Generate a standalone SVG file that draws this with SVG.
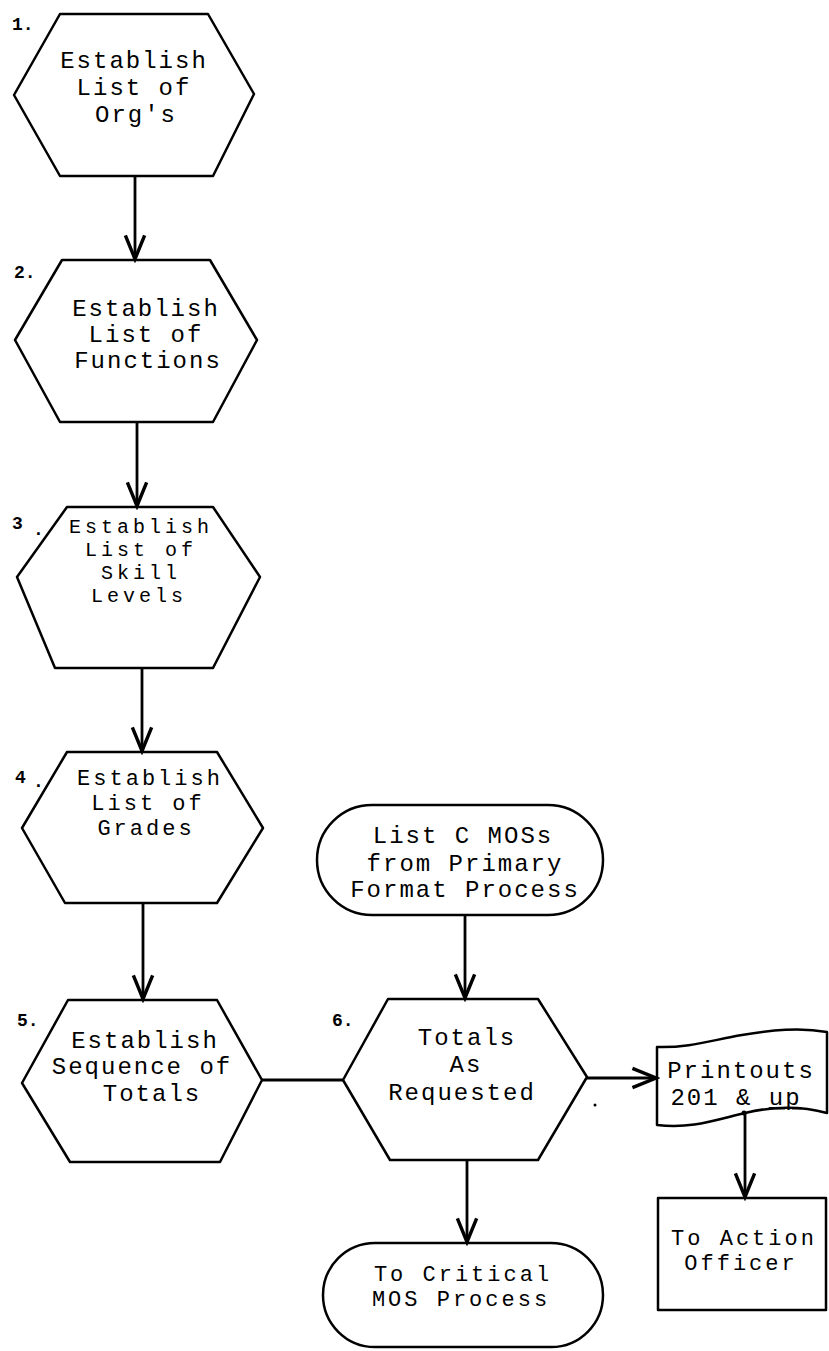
<svg xmlns="http://www.w3.org/2000/svg" width="829" height="1351" viewBox="0 0 829 1351">
  <style>
    .shape { fill: none; stroke: #000; stroke-width: 2.5; stroke-linejoin: round; }
    .conn { fill: none; stroke: #000; stroke-width: 2.8; }
    .t { font-family: "Liberation Mono", "DejaVu Sans Mono", monospace; font-size: 24px; letter-spacing: 2px; fill: #000; text-anchor: middle; }
    .t.mid { font-size: 22px; letter-spacing: 3px; }
    .t.tight { font-size: 20px; letter-spacing: 4px; }
    .num { font-family: "Liberation Mono", "DejaVu Sans Mono", monospace; font-size: 18px; font-weight: bold; fill: #000; }
  </style>
  <defs>
    <marker id="arrow" markerUnits="userSpaceOnUse" markerWidth="30" markerHeight="30" viewBox="-24 -12 28 24" refX="0" refY="0" orient="auto">
      <path d="M-22,-9 L0,0 L-22,9" fill="none" stroke="#000" stroke-width="3.2" stroke-linejoin="miter"/>
    </marker>
  </defs>

  <rect width="829" height="1351" fill="#fff"/>

  <!-- flow connectors -->
  <g id="connectors">
    <line class="conn" x1="135" y1="176" x2="135" y2="259" marker-end="url(#arrow)"/>
    <line class="conn" x1="137" y1="422" x2="137" y2="506" marker-end="url(#arrow)"/>
    <line class="conn" x1="142" y1="668" x2="142" y2="751" marker-end="url(#arrow)"/>
    <line class="conn" x1="143" y1="903" x2="143" y2="999" marker-end="url(#arrow)"/>
    <line class="conn" x1="465" y1="915" x2="465" y2="998" marker-end="url(#arrow)"/>
    <line class="conn" x1="262" y1="1080" x2="343" y2="1080"/>
    <line class="conn" x1="587" y1="1078" x2="656" y2="1078" marker-end="url(#arrow)"/>
    <line class="conn" x1="745" y1="1113" x2="745" y2="1197" marker-end="url(#arrow)"/>
    <circle cx="744" cy="1113" r="2.5" fill="#000"/>
    <line class="conn" x1="467" y1="1160" x2="467" y2="1242" marker-end="url(#arrow)"/>
    <circle cx="595" cy="1105" r="1.5" fill="#000"/>
  </g>

  <!-- 1. organisations -->
  <g id="step1">
    <polygon class="shape" points="60,14 208,14 254,94 213,176 60,176 14,95"/>
    <text class="num" x="12" y="30">1.</text>
    <text class="t" x="134" y="68">Establish</text>
    <text class="t" x="134" y="95">List of</text>
    <text class="t" x="136" y="122">Org's</text>
  </g>

  <!-- 2. functions -->
  <g id="step2">
    <polygon class="shape" points="62,260 210,260 257,340 213,422 60,422 15,340"/>
    <text class="num" x="14" y="278">2.</text>
    <text class="t" x="146" y="316">Establish</text>
    <text class="t" x="146" y="342">List of</text>
    <text class="t" x="148" y="368">Functions</text>
  </g>

  <!-- 3. skill levels -->
  <g id="step3">
    <polygon class="shape" points="67,507 213,507 260,577 213,668 55,668 17,577"/>
    <text class="num"><tspan x="12" y="529">3</tspan><tspan x="33" y="535">.</tspan></text>
    <text class="t tight" x="141" y="533">Establish</text>
    <text class="t tight" x="141" y="556">List of</text>
    <text class="t tight" x="141" y="579">Skill</text>
    <text class="t tight" x="139" y="602">Levels</text>
  </g>

  <!-- 4. grades -->
  <g id="step4">
    <polygon class="shape" points="67,752 217,752 263,828 217,903 65,903 22,828"/>
    <text class="num"><tspan x="15" y="783">4</tspan><tspan x="33" y="787">.</tspan></text>
    <text class="t mid" x="150" y="785">Establish</text>
    <text class="t mid" x="148" y="810">List of</text>
    <text class="t mid" x="146" y="835">Grades</text>
  </g>

  <!-- 5. sequence of totals -->
  <g id="step5">
    <polygon class="shape" points="68,1000 217,1000 262,1080 220,1162 70,1162 22,1083"/>
    <text class="num" x="17" y="1026">5.</text>
    <text class="t" x="145" y="1048">Establish</text>
    <text class="t" x="142" y="1074">Sequence of</text>
    <text class="t" x="152" y="1101">Totals</text>
  </g>

  <!-- 6. totals as requested -->
  <g id="step6">
    <polygon class="shape" points="388,999 538,999 587,1077 538,1160 390,1160 343,1080"/>
    <text class="num" x="332" y="1026">6.</text>
    <text class="t" x="467" y="1045">Totals</text>
    <text class="t" x="466" y="1072">As</text>
    <text class="t" x="462" y="1100">Requested</text>
  </g>

  <!-- input terminator -->
  <g id="mos-input">
    <rect class="shape" x="317" y="805" width="286" height="110" rx="55" ry="55"/>
    <text class="t" x="463" y="843">List C MOSs</text>
    <text class="t" x="465" y="871">from Primary</text>
    <text class="t" x="465" y="897">Format Process</text>
  </g>

  <!-- printout document -->
  <g id="printouts">
    <path class="shape" d="M657,1047 C690,1048 712,1040 742,1035 S800,1027 827,1032 L827,1113 C805,1107 778,1105 745,1113 S690,1129 657,1125 Z"/>
    <text class="t" x="741" y="1078">Printouts</text>
    <text class="t" x="736" y="1105">201 &amp; <tspan style="text-decoration: underline">up</tspan></text>
  </g>

  <!-- action officer -->
  <g id="action-officer">
    <rect class="shape" x="658" y="1198" width="168" height="112"/>
    <text class="t mid" x="744" y="1245">To Action</text>
    <text class="t mid" x="741" y="1270">Officer</text>
  </g>

  <!-- output terminator -->
  <g id="critical-mos">
    <rect class="shape" x="323" y="1243" width="280" height="104" rx="52" ry="52"/>
    <text class="t mid" x="463" y="1281">To Critical</text>
    <text class="t mid" x="461" y="1306">MOS Process</text>
  </g>
</svg>
